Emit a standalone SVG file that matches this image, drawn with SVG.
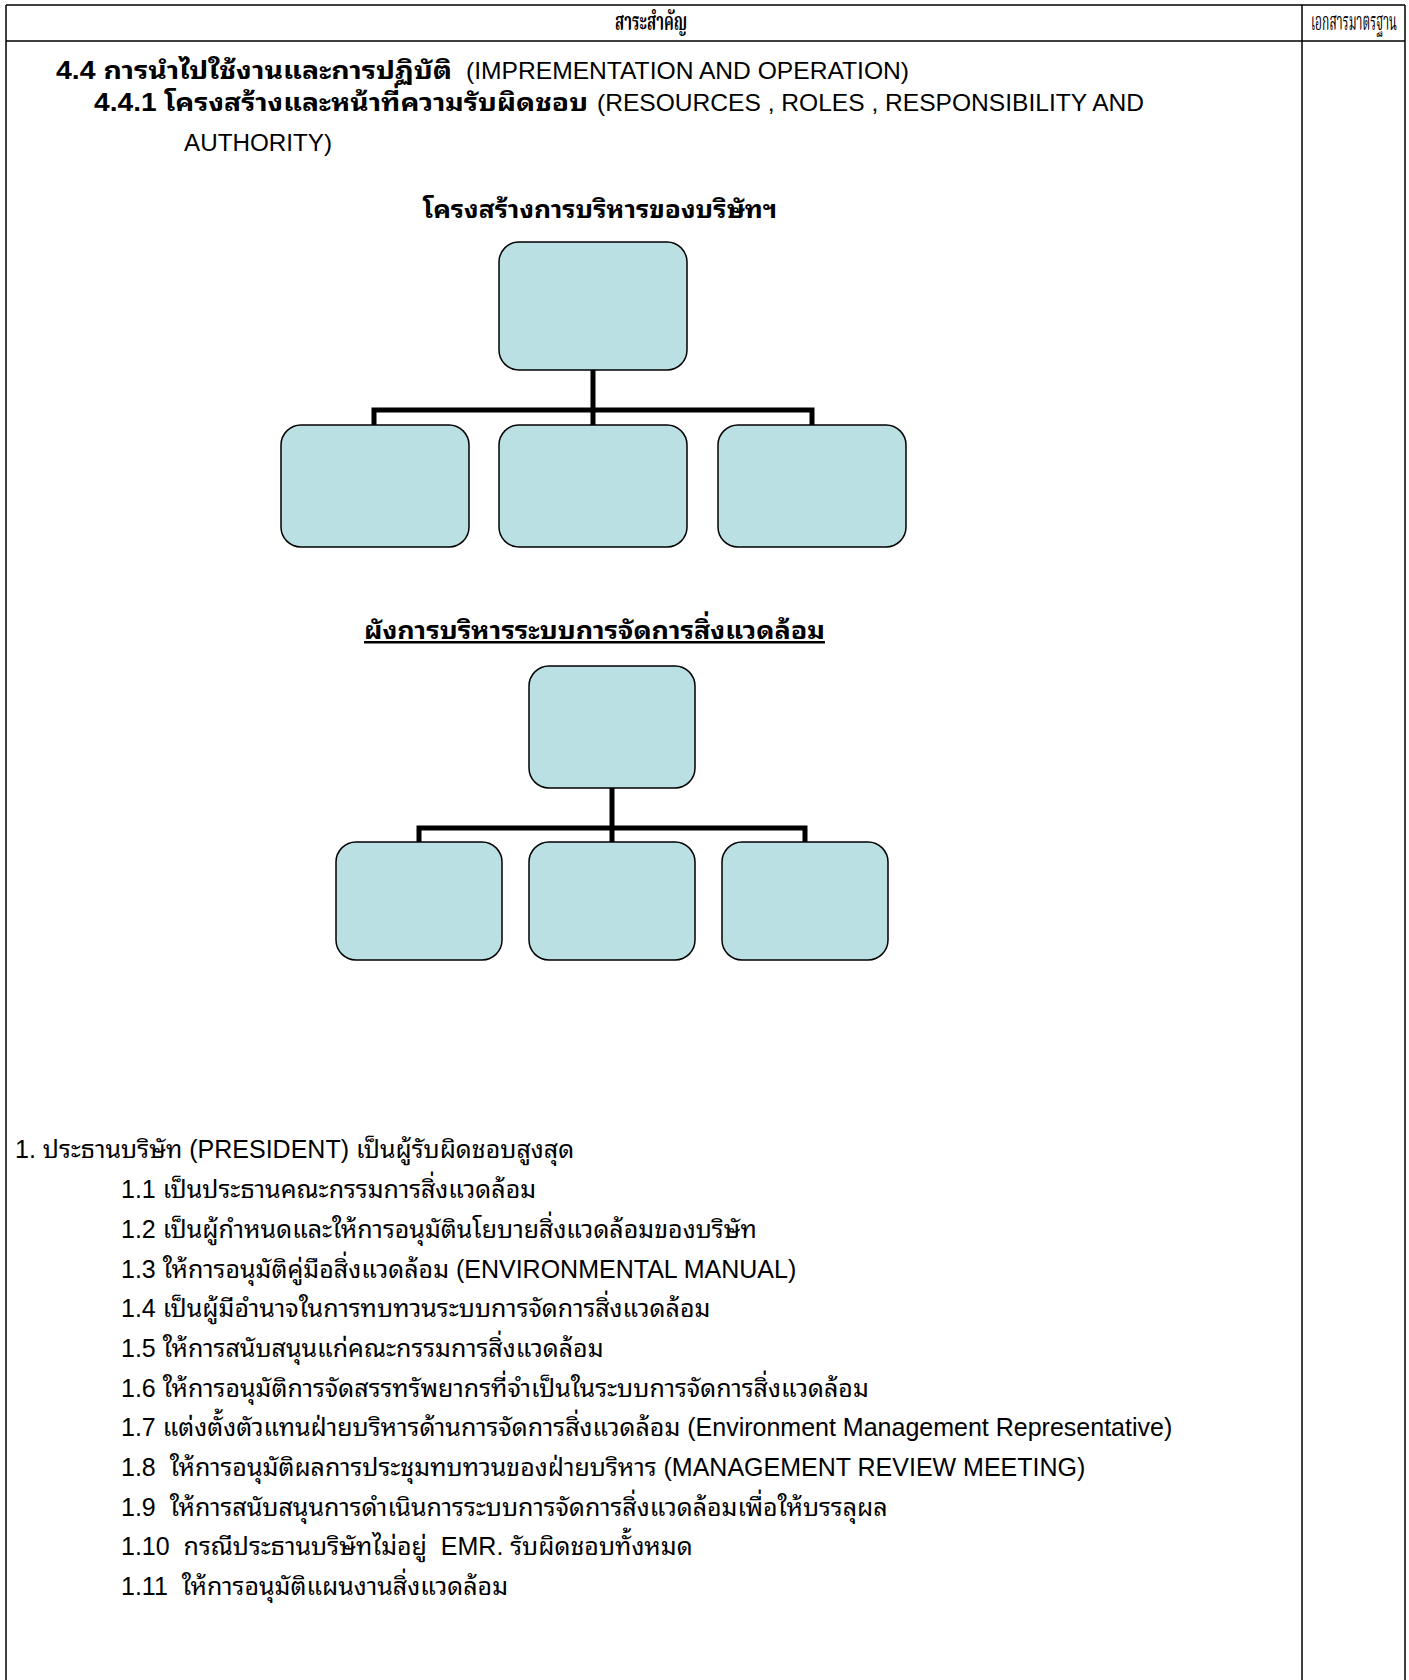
<svg xmlns="http://www.w3.org/2000/svg" width="1409" height="1680" viewBox="0 0 1409 1680">
<style>
.t{font-family:"Liberation Sans","Noto Sans Thai Looped","Loma","Garuda","Tahoma","Noto Sans Thai","Noto Sans",sans-serif;font-size:24.5px;fill:#000;white-space:pre}
.b{font-weight:bold;font-size:25px}
.p{font-size:25px}
.hd{font-family:"Liberation Serif","Noto Serif Thai",serif;font-size:24px;fill:#000}
.box{fill:#BBE0E3;stroke:#000;stroke-width:1.5}
.con{fill:none;stroke:#000;stroke-width:5}
.grid{stroke:#000;stroke-width:1.5;fill:none}
</style>
<rect width="1409" height="1680" fill="#fff"/>
<g id="table">
<line class="grid" x1="6" y1="5" x2="1405" y2="5"/>
<line class="grid" x1="6" y1="41" x2="1405" y2="41"/>
<line class="grid" x1="6" y1="5" x2="6" y2="1680"/>
<line class="grid" x1="1302" y1="5" x2="1302" y2="1680"/>
<line class="grid" x1="1405" y1="5" x2="1405" y2="1680"/>
<text class="hd" x="651" y="30" text-anchor="middle" font-weight="bold" textLength="72" lengthAdjust="spacingAndGlyphs">สาระสำคัญ</text>
<text class="hd" x="1354" y="30" text-anchor="middle" textLength="86" lengthAdjust="spacingAndGlyphs">เอกสารมาตรฐาน</text>
</g>
<g id="headings">
<text class="t b" x="56" y="79" textLength="396" lengthAdjust="spacingAndGlyphs">4.4 การนำไปใช้งานและการปฏิบัติ</text>
<text class="t" x="466" y="79" textLength="443" lengthAdjust="spacingAndGlyphs">(IMPREMENTATION AND OPERATION)</text>
<text class="t b" x="94" y="111" textLength="494" lengthAdjust="spacingAndGlyphs">4.4.1 โครงสร้างและหน้าที่ความรับผิดชอบ</text>
<text class="t" x="597" y="111" textLength="547" lengthAdjust="spacingAndGlyphs">(RESOURCES , ROLES , RESPONSIBILITY AND</text>
<text class="t" x="184" y="151" textLength="148" lengthAdjust="spacingAndGlyphs">AUTHORITY)</text>
<text class="t b" x="600" y="218" text-anchor="middle" textLength="354" lengthAdjust="spacingAndGlyphs">โครงสร้างการบริหารของบริษัทฯ</text>
<text class="t b" x="364" y="639" text-decoration="underline" textLength="461" lengthAdjust="spacingAndGlyphs">ผังการบริหารระบบการจัดการสิ่งแวดล้อม</text>
</g>
<g id="connectors">
<path class="con" d="M593 370V410M374 425V410H812V425M593 410V425"/>
<path class="con" d="M612 788V828M419 842V828H805V842M612 828V842"/>
</g>
<g id="chart1-top"><rect class="box" x="499" y="242" width="188" height="128" rx="20"/></g>
<g id="chart1-left"><rect class="box" x="281" y="425" width="188" height="122" rx="20"/></g>
<g id="chart1-mid"><rect class="box" x="499" y="425" width="188" height="122" rx="20"/></g>
<g id="chart1-right"><rect class="box" x="718" y="425" width="188" height="122" rx="20"/></g>
<g id="chart2-top"><rect class="box" x="529" y="666" width="166" height="122" rx="20"/></g>
<g id="chart2-left"><rect class="box" x="336" y="842" width="166" height="118" rx="20"/></g>
<g id="chart2-mid"><rect class="box" x="529" y="842" width="166" height="118" rx="20"/></g>
<g id="chart2-right"><rect class="box" x="722" y="842" width="166" height="118" rx="20"/></g>
<g id="body">
<text class="t p" x="15" y="1158">1. ประธานบริษัท (PRESIDENT) เป็นผู้รับผิดชอบสูงสุด</text>
<text class="t p" x="121" y="1198">1.1 เป็นประธานคณะกรรมการสิ่งแวดล้อม</text>
<text class="t p" x="121" y="1238">1.2 เป็นผู้กำหนดและให้การอนุมัตินโยบายสิ่งแวดล้อมของบริษัท</text>
<text class="t p" x="121" y="1278">1.3 ให้การอนุมัติคู่มือสิ่งแวดล้อม (ENVIRONMENTAL MANUAL)</text>
<text class="t p" x="121" y="1317">1.4 เป็นผู้มีอำนาจในการทบทวนระบบการจัดการสิ่งแวดล้อม</text>
<text class="t p" x="121" y="1357">1.5 ให้การสนับสนุนแก่คณะกรรมการสิ่งแวดล้อม</text>
<text class="t p" x="121" y="1397">1.6 ให้การอนุมัติการจัดสรรทรัพยากรที่จำเป็นในระบบการจัดการสิ่งแวดล้อม</text>
<text class="t p" x="121" y="1436">1.7 แต่งตั้งตัวแทนฝ่ายบริหารด้านการจัดการสิ่งแวดล้อม (Environment Management Representative)</text>
<text class="t p" x="121" y="1476">1.8  ให้การอนุมัติผลการประชุมทบทวนของฝ่ายบริหาร (MANAGEMENT REVIEW MEETING)</text>
<text class="t p" x="121" y="1516">1.9  ให้การสนับสนุนการดำเนินการระบบการจัดการสิ่งแวดล้อมเพื่อให้บรรลุผล</text>
<text class="t p" x="121" y="1555">1.10  กรณีประธานบริษัทไม่อยู่  EMR. รับผิดชอบทั้งหมด</text>
<text class="t p" x="121" y="1595">1.11  ให้การอนุมัติแผนงานสิ่งแวดล้อม</text>
</g>
</svg>
